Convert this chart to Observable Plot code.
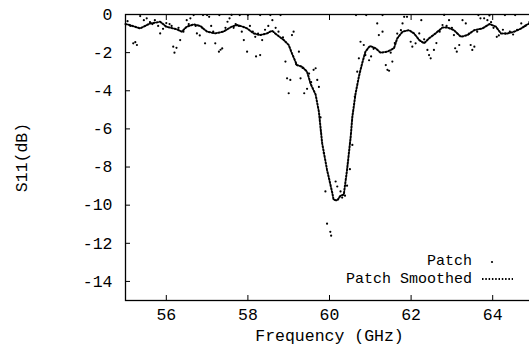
<!DOCTYPE html>
<html>
<head>
<meta charset="utf-8">
<script src="https://cdn.jsdelivr.net/npm/d3@7"></script>
<script src="https://cdn.jsdelivr.net/npm/@observablehq/plot@0.6"></script>
<style>
  html, body { margin: 0; padding: 0; background: #fff; overflow: hidden; }
  #wrap { position: relative; width: 533px; height: 347px; font-family: "Liberation Mono", "DejaVu Sans Mono", monospace; }
  .leg { position: absolute; right: 61px; font-size: 15px; line-height: 15px; color: #000; white-space: pre; }
</style>
</head>
<body>
<div id="wrap"></div>
<script>
// Smoothed curve ("Patch Smoothed")
const smoothFreq = [55.0,55.1,55.2,55.36,55.5,55.6,55.75,55.85,56.0,56.15,56.26,56.38,56.5,56.67,56.83,57.0,57.2,57.4,57.6,57.73,57.85,57.98,58.14,58.3,58.47,58.59,58.72,58.88,59.0,59.08,59.2,59.33,59.45,59.54,59.66,59.74,59.82,59.94,60.07,60.1,60.19,60.27,60.35,60.43,60.52,60.56,60.64,60.72,60.8,60.88,60.99,61.13,61.25,61.42,61.58,61.66,61.79,61.95,62.07,62.2,62.32,62.44,62.6,62.77,62.89,63.05,63.22,63.38,63.55,63.75,63.92,64.08,64.2,64.37,64.53,64.7,64.86,65.0];
const smoothS11 = [-0.5,-0.55,-0.62,-0.73,-0.58,-0.47,-0.42,-0.38,-0.64,-0.72,-0.78,-0.9,-0.64,-0.52,-0.6,-0.9,-0.99,-0.9,-0.64,-0.55,-0.62,-0.73,-0.99,-1.08,-0.99,-0.85,-1.08,-1.34,-1.6,-2.04,-2.65,-2.74,-3.0,-3.65,-4.2,-5.1,-6.75,-8.15,-9.37,-9.72,-9.75,-9.5,-9.45,-8.15,-6.4,-5.36,-4.13,-3.26,-2.56,-1.95,-1.65,-1.77,-2.0,-1.95,-1.77,-1.25,-0.9,-0.82,-0.99,-1.34,-1.51,-1.25,-0.99,-0.68,-0.68,-0.82,-1.17,-1.08,-0.82,-0.73,-0.5,-0.64,-0.99,-0.99,-0.9,-0.73,-0.5,-0.45];

// Raw measurement points ("Patch")
const rawFreq = [55.05,55.12,55.19,55.24,55.28,55.36,55.45,55.52,55.6,55.66,55.72,55.8,55.85,55.92,56.0,56.08,56.13,56.17,56.2,56.25,56.3,56.34,56.42,56.5,56.55,56.59,56.67,56.72,56.75,56.82,56.88,56.95,57.0,57.05,57.1,57.15,57.2,57.29,57.33,57.37,57.45,57.5,57.55,57.6,57.65,57.7,57.78,57.85,57.9,57.98,58.05,58.12,58.18,58.2,58.25,58.3,58.35,58.42,58.5,58.55,58.6,58.68,58.75,58.8,58.86,58.92,58.96,59.0,59.04,59.08,59.12,59.18,59.25,59.29,59.34,59.38,59.45,59.5,59.55,59.61,59.66,59.7,59.74,59.78,59.86,59.9,59.94,60.02,60.04,60.15,60.19,60.27,60.31,60.38,60.43,60.5,60.56,60.62,60.68,60.72,60.76,60.84,60.88,60.97,61.02,61.08,61.17,61.21,61.3,61.38,61.42,61.46,61.5,61.54,61.6,61.66,61.75,61.79,61.83,61.9,61.99,62.03,62.11,62.2,62.25,62.32,62.4,62.44,62.48,62.56,62.62,62.7,62.77,62.81,62.87,62.93,63.0,63.05,63.08,63.12,63.18,63.26,63.34,63.42,63.46,63.5,63.55,63.62,63.7,63.79,63.87,63.92,63.96,64.02,64.1,64.15,64.25,64.32,64.42,64.5,64.6,64.7,64.8,64.9,56.9,57.3,57.8,58.0,58.3,60.65,60.9,61.3,63.65,64.3,64.55];
const rawS11 = [-0.35,-0.6,-1.51,-1.45,-1.6,-0.08,-0.3,-0.2,-0.4,-0.5,-0.3,-0.6,-0.99,-0.75,-0.45,-0.5,-0.6,-1.69,-2.0,-1.75,-0.7,-1.34,-0.9,-0.3,-0.5,-0.2,-0.03,-0.6,-0.99,-1.1,-0.7,-1.51,-0.03,-0.12,-0.6,-0.9,-1.51,-1.95,-1.85,-1.78,-0.7,-0.38,-0.2,-0.02,-0.7,-0.5,-0.6,-0.9,-1.34,-1.95,-0.6,-0.9,-1.17,-2.2,-1.0,-2.13,-1.34,-0.8,-0.6,-0.03,-0.3,-0.7,-0.9,-0.03,-1.2,-2.47,-3.35,-4.13,-3.43,-1.08,-0.9,-2.6,-1.95,-3.35,-2.8,-4.13,-3.9,-3.1,-3.55,-2.9,-2.82,-3.43,-3.8,-5.4,-7.27,-9.28,-10.97,-11.4,-11.6,-8.76,-9.02,-9.28,-9.6,-9.5,-8.98,-8.11,-6.84,-4.3,-3.0,-2.3,-1.43,-1.6,-2.13,-2.4,-2.2,-1.8,-0.47,-1.08,-0.9,-2.65,-2.9,-2.95,-2.0,-2.47,-1.5,-1.0,-0.82,-0.47,-0.12,-0.12,-1.43,-1.69,-1.51,-0.99,-0.3,-1.3,-1.86,-2.13,-2.3,-1.86,-1.5,-0.9,-0.55,-0.02,-0.6,-0.3,-0.7,-1.08,-1.77,-1.95,-1.6,-0.3,-0.47,-1.0,-1.6,-1.86,-1.69,-0.9,-0.2,-0.2,-0.3,-0.05,-0.4,-0.7,-1.17,-1.1,-0.8,-1.0,-0.9,-1.05,-0.8,-0.47,-0.6,-0.4,-0.03,-0.03,-0.03,-0.03,-0.03,-0.03,-0.03,-0.03,-0.03,-0.03,-0.03];

const xTicks = [56, 58, 60, 62, 64];
const yTicks = [0, -2, -4, -6, -8, -10, -12, -14];

const smooth = smoothFreq.map((f, i) => ({f, s: smoothS11[i]}));
const raw = rawFreq.map((f, i) => ({f, s: rawS11[i]}));

const chart = Plot.plot({
  width: 533,
  height: 347,
  marginLeft: 125,
  marginRight: 0,
  marginTop: 14,
  marginBottom: 47,
  style: {fontFamily: "'Liberation Mono', 'DejaVu Sans Mono', monospace", fontSize: "16.5px", color: "#000", background: "#fff"},
  x: {domain: [55, 65]},
  y: {domain: [-15, 0]},
  marks: [
    Plot.axisX({anchor: "bottom", ticks: xTicks, tickSize: -5, tickPadding: 13, tickFormat: d => String(d), label: "Frequency (GHz)", labelAnchor: "center", labelArrow: false, labelOffset: 40}),
    Plot.axisX({anchor: "top", ticks: xTicks, tickSize: -5, tickFormat: () => "", label: null}),
    Plot.axisY({anchor: "left", ticks: yTicks, tickSize: -5, tickPadding: 18, tickFormat: d => String(d), label: "S11(dB)", labelAnchor: "center", labelArrow: false, labelOffset: 110}),
    Plot.axisY({anchor: "right", ticks: yTicks, tickSize: -5, tickFormat: () => "", label: null}),
    Plot.frame({stroke: "#000", strokeWidth: 1.3}),
    Plot.line(smooth, {x: "f", y: "s", stroke: "#000", strokeWidth: 2, strokeDasharray: "1.5,1.8", curve: "linear"}),
    Plot.dot(raw, {x: "f", y: "s", r: 1.1, fill: "#000", stroke: "none"})
  ]
});

const wrap = document.getElementById("wrap");
wrap.appendChild(chart);

const l1 = document.createElement("div");
l1.className = "leg"; l1.style.top = "254px"; l1.textContent = "Patch";
const l2 = document.createElement("div");
l2.className = "leg"; l2.style.top = "272px"; l2.textContent = "Patch Smoothed";
wrap.appendChild(l1); wrap.appendChild(l2);

const ns = "http://www.w3.org/2000/svg";
const sv = document.createElementNS(ns, "svg");
sv.setAttribute("width", "40"); sv.setAttribute("height", "34");
sv.style.position = "absolute"; sv.style.left = "478px"; sv.style.top = "254px";
const c = document.createElementNS(ns, "circle");
c.setAttribute("cx", "14"); c.setAttribute("cy", "8"); c.setAttribute("r", "1.1"); c.setAttribute("fill", "#000");
const ln = document.createElementNS(ns, "line");
ln.setAttribute("x1", "4"); ln.setAttribute("x2", "35"); ln.setAttribute("y1", "25"); ln.setAttribute("y2", "25");
ln.setAttribute("stroke", "#000"); ln.setAttribute("stroke-width", "2"); ln.setAttribute("stroke-dasharray", "1.5,1.8");
sv.appendChild(c); sv.appendChild(ln);
wrap.appendChild(sv);
</script>
</body>
</html>
